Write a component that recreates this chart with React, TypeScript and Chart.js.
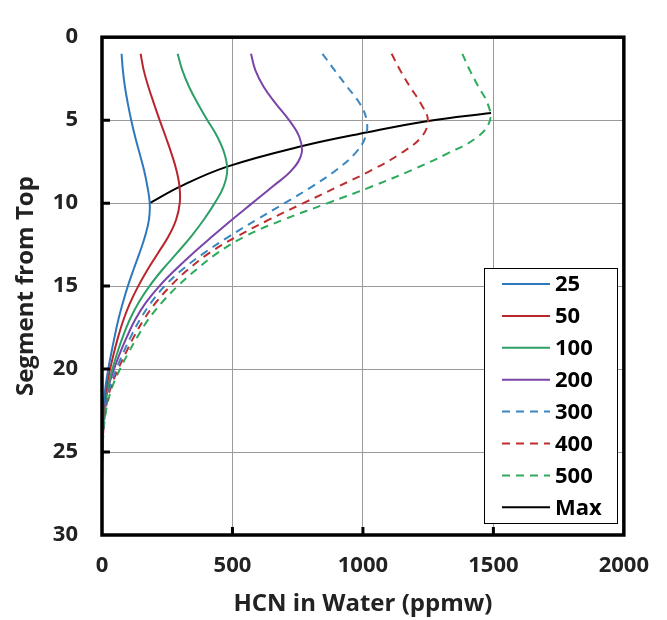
import React, { useEffect, useRef } from "react";
import { Chart, registerables } from "chart.js";

Chart.register(...registerables);

const segments = [1, 2, 3, 4, 5, 6, 7, 8, 9, 10, 11, 12, 13, 14, 15, 16, 17, 18, 19, 20, 21, 22, 23, 24, 25, 26, 27];

const hcn25 = [75, 80, 88, 99, 112, 127, 144, 161, 174, 183, 180, 165, 144, 121, 99, 80, 63, 49, 36, 24, 14, 7, 3, 1.5, 0.5, 0, 0];
const hcn50 = [148, 160, 178, 199, 221, 244, 266, 285, 297, 298, 284, 255, 215, 175, 139, 108, 83, 63, 46, 31, 18, 9, 4, 2, 1, 0, 0];
const hcn100 = [290, 308, 334, 367, 404, 442, 469, 480, 466, 432, 390, 342, 288, 232, 182, 140, 107, 81, 59, 40, 24, 12, 6, 3, 1, 0, 0];
const hcn200 = [571, 588, 620, 666, 717, 756, 765, 728, 654, 576, 498, 423, 350, 282, 220, 168, 128, 97, 70, 46, 26, 13, 6, 3, 1, 0, 0];
const hcn300 = [845, 892, 940, 988, 1014, 1010, 970, 898, 805, 700, 592, 488, 392, 308, 240, 188, 146, 112, 82, 55, 32, 16, 8, 3, 1, 0.5, 0];
const hcn400 = [1110, 1143, 1181, 1222, 1249, 1225, 1145, 1035, 905, 772, 640, 518, 412, 330, 262, 206, 161, 124, 92, 62, 36, 19, 9, 4, 2, 1, 0];
const hcn500 = [1381, 1410, 1443, 1478, 1487, 1440, 1325, 1188, 1034, 865, 695, 548, 443, 362, 290, 229, 178, 138, 102, 69, 41, 22, 11, 5, 2, 1, 0];

const maxX = [1491, 1250, 1018, 768, 480, 299, 183];
const maxY = [4.57, 5.05, 5.73, 6.56, 7.8, 9, 10];

const legendLabels = ["25", "50", "100", "200", "300", "400", "500", "Max"];
const xTicks = [0, 500, 1000, 1500, 2000];
const yTicks = [0, 5, 10, 15, 20, 25, 30];

const FONT = "'Open Sans', 'DejaVu Sans', sans-serif";

const toPts = (vals: number[]) => vals.map((v, i) => ({ x: v, y: segments[i] }));

const framePlugin = {
  id: "frame",
  afterDraw(chart: any) {
    const { ctx, chartArea } = chart;
    const { left, right, top, bottom } = chartArea;
    const xs = chart.scales.x;
    const ys = chart.scales.y;
    ctx.save();
    ctx.strokeStyle = "#000";
    ctx.lineWidth = 3;
    ctx.beginPath();
    yTicks.slice(1, -1).forEach((t) => {
      const y = ys.getPixelForValue(t);
      ctx.moveTo(left, y);
      ctx.lineTo(left + 8, y);
    });
    xTicks.slice(1, -1).forEach((t) => {
      const x = xs.getPixelForValue(t);
      ctx.moveTo(x, bottom);
      ctx.lineTo(x, bottom - 8);
    });
    ctx.stroke();
    ctx.lineWidth = 3.5;
    ctx.strokeRect(left, top, right - left, bottom - top);

    const bx = 484, by = 268, bw = 133, bh = 255;
    ctx.fillStyle = "#fff";
    ctx.fillRect(bx, by, bw, bh);
    ctx.lineWidth = 1;
    ctx.strokeStyle = "#000";
    ctx.strokeRect(bx + 0.5, by + 0.5, bw, bh);
    ctx.font = `bold 22px ${FONT}`;
    ctx.textBaseline = "middle";
    ctx.textAlign = "left";
    chart.data.datasets.forEach((ds: any, i: number) => {
      const y = 284 + i * 31.9;
      ctx.strokeStyle = ds.borderColor;
      ctx.lineWidth = 2;
      ctx.setLineDash(ds.borderDash || []);
      ctx.beginPath();
      ctx.moveTo(502, y);
      ctx.lineTo(550, y);
      ctx.stroke();
      ctx.setLineDash([]);
      ctx.fillStyle = "#000";
      ctx.fillText(ds.label, 555, y + 1);
    });
    ctx.restore();
  },
};

export default function App() {
  const ref = useRef<HTMLCanvasElement>(null);
  useEffect(() => {
    document.body.style.margin = "0";
    const dash = [8, 6];
    const mk = (label: string, vals: any[], color: string, dashed: boolean) => ({
      label,
      data: vals,
      borderColor: color,
      backgroundColor: color,
      borderWidth: 2,
      borderDash: dashed ? dash : [],
      pointRadius: 0,
      tension: 0.4,
      fill: false,
    });
    const chart = new Chart(ref.current!, {
      type: "line",
      data: {
        datasets: [
          mk(legendLabels[0], toPts(hcn25), "#2F78BE", false),
          mk(legendLabels[1], toPts(hcn50), "#B8252C", false),
          mk(legendLabels[2], toPts(hcn100), "#2EA066", false),
          mk(legendLabels[3], toPts(hcn200), "#7A44A8", false),
          mk(legendLabels[4], toPts(hcn300), "#3A87C2", true),
          mk(legendLabels[5], toPts(hcn400), "#BE2E2E", true),
          mk(legendLabels[6], toPts(hcn500), "#2DAA5C", true),
          mk(legendLabels[7], maxX.map((v, i) => ({ x: v, y: maxY[i] })), "#000000", false),
        ],
      },
      options: {
        indexAxis: "y",
        responsive: false,
        animation: false,
        devicePixelRatio: 1,
        layout: { padding: { top: 18, right: 37, left: 0, bottom: 0 } },
        plugins: { legend: { display: false }, tooltip: { enabled: false } },
        scales: {
          x: {
            type: "linear",
            position: "bottom",
            min: 0,
            max: 2000,
            afterFit: (s: any) => { s.height = 85; },
            afterBuildTicks: (s: any) => { s.ticks = xTicks.map((v) => ({ value: v })); },
            grid: { color: "#9a9a9a", lineWidth: 1, drawTicks: false },
            border: { display: false },
            ticks: { font: { family: FONT, size: 22, weight: "bold" }, color: "#222", padding: 18, maxRotation: 0, callback: (v: any) => String(v) },
            title: {
              display: true,
              text: "HCN in Water (ppmw)",
              font: { family: FONT, size: 24, weight: "bold" },
              color: "#222",
              padding: { top: 0, bottom: 1 },
            },
          },
          y: {
            type: "linear",
            position: "left",
            min: 0,
            max: 30,
            reverse: true,
            afterFit: (s: any) => { s.width = 102; },
            afterBuildTicks: (s: any) => { s.ticks = yTicks.map((v) => ({ value: v })); },
            grid: { color: "#9a9a9a", lineWidth: 1, drawTicks: false },
            border: { display: false },
            ticks: { font: { family: FONT, size: 22, weight: "bold" }, color: "#222", padding: 24, callback: (v: any) => String(v) },
            title: {
              display: true,
              text: "Segment from Top",
              font: { family: FONT, size: 24, weight: "bold" },
              color: "#222",
              padding: { top: 12, bottom: 0 },
            },
          },
        },
      },
      plugins: [framePlugin],
    });
    return () => chart.destroy();
  }, []);
  return <canvas ref={ref} width={667} height={620} style={{ width: 667, height: 620, display: "block" }} />;
}
